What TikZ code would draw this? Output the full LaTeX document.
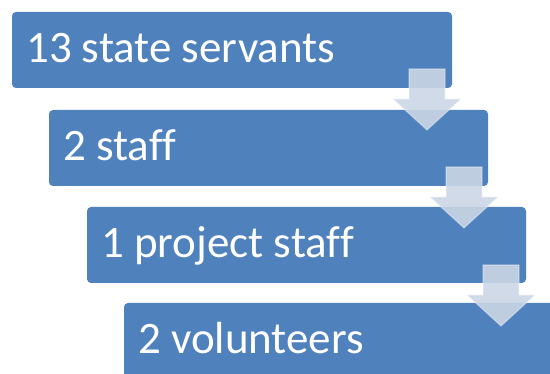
\documentclass[tikz,border=0pt]{standalone}
\usepackage{fontspec}
\setmainfont[Ligatures=CommonOff]{Carlito}
\definecolor{boxblue}{HTML}{4F81BD}
\definecolor{arrowfill}{HTML}{CCD6E6}
\begin{document}
\begin{tikzpicture}[x=1pt,y=-1pt,
  stagebox/.style={fill=boxblue,rounded corners=4pt,draw=none},
  stagetext/.style={anchor=base west,text=white,font=\fontsize{45}{50}\selectfont,inner sep=0pt},
  downarrow/.style={fill=arrowfill,fill opacity=0.9,draw=white,draw opacity=0.35,line width=1.2pt}]
\useasboundingbox (0,0) rectangle (550,374);
\fill[white] (0,0) rectangle (550,374);
% boxes
\path[stagebox] (12,12) rectangle (452,88);
\node[stagetext] (t1) at (26,63) {13 state servants};
\path[stagebox] (49,110) rectangle (488,186);
\node[stagetext] (t2) at (63,161) {2 staff};
\path[stagebox] (87,207) rectangle (526,283);
\node[stagetext] (t3) at (101,258) {1 project staff};
\path[stagebox] (124,303) rectangle (566,380);
\node[stagetext] (t4) at (138,354) {2 volunteers};
% arrows
\foreach \dx/\dy in {0/0, 37/98, 74/196}{
  \begin{scope}[shift={(\dx,\dy)}]
  \path[downarrow] (409,69) -- (445,69) -- (445,99) -- (461,99) -- (427,130) -- (393,99) -- (409,99) -- cycle;
  \end{scope}
}
\end{tikzpicture}
\end{document}
